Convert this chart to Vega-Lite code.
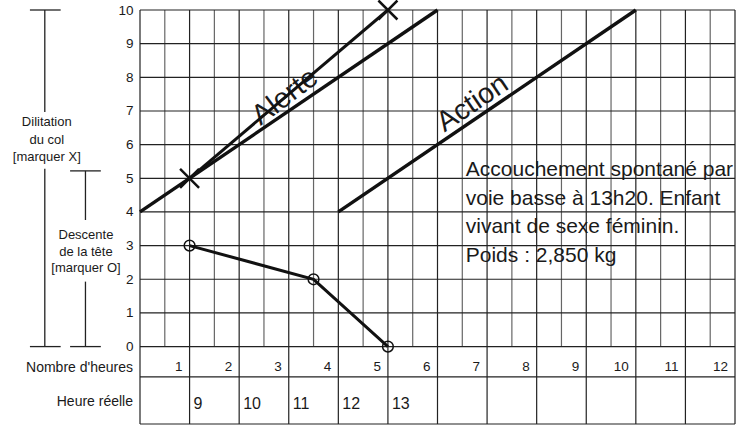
{
  "$schema": "https://vega.github.io/schema/vega-lite/v6.json",
  "width": 595,
  "height": 414,
  "autosize": {"type": "none"},
  "padding": {"left": 140, "top": 10, "right": 1, "bottom": 3},
  "background": "white",
  "config": {"view": {"stroke": null}, "text": {"font": "Liberation Sans", "color": "#1a1a1a"}},
  "datasets": {
    "vhalf": [
      {"x": 0.5, "x2": 0.5, "y": 0, "y2": 10}, {"x": 1.5, "x2": 1.5, "y": 0, "y2": 10},
      {"x": 2.5, "x2": 2.5, "y": 0, "y2": 10}, {"x": 3.5, "x2": 3.5, "y": 0, "y2": 10},
      {"x": 4.5, "x2": 4.5, "y": 0, "y2": 10}, {"x": 5.5, "x2": 5.5, "y": 0, "y2": 10},
      {"x": 6.5, "x2": 6.5, "y": 0, "y2": 10}, {"x": 7.5, "x2": 7.5, "y": 0, "y2": 10},
      {"x": 8.5, "x2": 8.5, "y": 0, "y2": 10}, {"x": 9.5, "x2": 9.5, "y": 0, "y2": 10},
      {"x": 10.5, "x2": 10.5, "y": 0, "y2": 10}, {"x": 11.5, "x2": 11.5, "y": 0, "y2": 10}
    ],
    "vhour": [
      {"x": 0, "x2": 0, "y": -2.3, "y2": 10}, {"x": 1, "x2": 1, "y": -2.3, "y2": 10},
      {"x": 2, "x2": 2, "y": -2.3, "y2": 10}, {"x": 3, "x2": 3, "y": -2.3, "y2": 10},
      {"x": 4, "x2": 4, "y": -2.3, "y2": 10}, {"x": 5, "x2": 5, "y": -2.3, "y2": 10},
      {"x": 6, "x2": 6, "y": -2.3, "y2": 10}, {"x": 7, "x2": 7, "y": -2.3, "y2": 10},
      {"x": 8, "x2": 8, "y": -2.3, "y2": 10}, {"x": 9, "x2": 9, "y": -2.3, "y2": 10},
      {"x": 10, "x2": 10, "y": -2.3, "y2": 10}, {"x": 11, "x2": 11, "y": -2.3, "y2": 10},
      {"x": 12, "x2": 12, "y": -2.3, "y2": 10}
    ],
    "hlines": [
      {"x": 0, "x2": 12, "y": 0, "y2": 0}, {"x": 0, "x2": 12, "y": 1, "y2": 1},
      {"x": 0, "x2": 12, "y": 2, "y2": 2}, {"x": 0, "x2": 12, "y": 3, "y2": 3},
      {"x": 0, "x2": 12, "y": 4, "y2": 4}, {"x": 0, "x2": 12, "y": 5, "y2": 5},
      {"x": 0, "x2": 12, "y": 6, "y2": 6}, {"x": 0, "x2": 12, "y": 7, "y2": 7},
      {"x": 0, "x2": 12, "y": 8, "y2": 8}, {"x": 0, "x2": 12, "y": 9, "y2": 9},
      {"x": 0, "x2": 12, "y": 10, "y2": 10}, {"x": 0, "x2": 12, "y": -0.9, "y2": -0.9},
      {"x": 0, "x2": 12, "y": -2.3, "y2": -2.3}
    ],
    "brackets": [
      {"x": -1.92, "x2": -1.92, "y": 10, "y2": 6.97},
      {"x": -1.92, "x2": -1.92, "y": 5.28, "y2": 0},
      {"x": -2.22, "x2": -1.6, "y": 10, "y2": 10},
      {"x": -2.22, "x2": -1.6, "y": 0, "y2": 0},
      {"x": -1.1, "x2": -1.1, "y": 5.22, "y2": 3.76},
      {"x": -1.1, "x2": -1.1, "y": 1.93, "y2": 0},
      {"x": -1.41, "x2": -0.79, "y": 5.22, "y2": 5.22},
      {"x": -1.41, "x2": -0.79, "y": 0, "y2": 0}
    ],
    "guides": [
      {"ligne": "Alerte", "x": 0, "y": 4}, {"ligne": "Alerte", "x": 6, "y": 10},
      {"ligne": "Action", "x": 4, "y": 4}, {"ligne": "Action", "x": 10, "y": 10}
    ],
    "guideLabels": [
      {"label": "Alerte", "x": 2.92, "y": 7.43, "angle": -37},
      {"label": "Action", "x": 6.7, "y": 7.24, "angle": -34}
    ],
    "dilatation": [{"x": 1, "y": 5}, {"x": 5, "y": 10}],
    "descente": [{"x": 1, "y": 3}, {"x": 3.5, "y": 2}, {"x": 5, "y": 0}],
    "hours": [
      {"x": 1, "y": -0.6, "label": "1"}, {"x": 2, "y": -0.6, "label": "2"},
      {"x": 3, "y": -0.6, "label": "3"}, {"x": 4, "y": -0.6, "label": "4"},
      {"x": 5, "y": -0.6, "label": "5"}, {"x": 6, "y": -0.6, "label": "6"},
      {"x": 7, "y": -0.6, "label": "7"}, {"x": 8, "y": -0.6, "label": "8"},
      {"x": 9, "y": -0.6, "label": "9"}, {"x": 10, "y": -0.6, "label": "10"},
      {"x": 11, "y": -0.6, "label": "11"}, {"x": 12, "y": -0.6, "label": "12"}
    ],
    "realHours": [
      {"x": 1, "y": -1.7, "label": "9"}, {"x": 2, "y": -1.7, "label": "10"},
      {"x": 3, "y": -1.7, "label": "11"}, {"x": 4, "y": -1.7, "label": "12"},
      {"x": 5, "y": -1.7, "label": "13"}
    ],
    "rowLabels": [
      {"x": 0, "y": -0.64, "label": "Nombre d'heures"},
      {"x": 0, "y": -1.66, "label": "Heure réelle"}
    ],
    "sideLabels": [
      {"x": -1.88, "y": 6.67, "label": "Dilitation"},
      {"x": -1.88, "y": 6.14, "label": "du col"},
      {"x": -1.88, "y": 5.63, "label": "[marquer X]"},
      {"x": -1.09, "y": 3.32, "label": "Descente"},
      {"x": -1.09, "y": 2.82, "label": "de la tête"},
      {"x": -1.09, "y": 2.34, "label": "[marquer O]"}
    ],
    "note": [
      {"x": 6.57, "y": 5.07, "label": "Accouchement spontané par\nvoie basse à 13h20. Enfant\nvivant de sexe féminin.\nPoids : 2,850 kg"}
    ]
  },
  "encoding": {
    "x": {"field": "x", "type": "quantitative", "scale": {"domain": [0, 12], "nice": false, "zero": false}, "axis": null},
    "y": {"field": "y", "type": "quantitative", "scale": {"domain": [-2.3, 10], "nice": false, "zero": false},
      "axis": {"values": [0, 1, 2, 3, 4, 5, 6, 7, 8, 9, 10], "ticks": false, "domain": false, "grid": false, "labelPadding": 7, "labelFontSize": 13.5, "labelFont": "Liberation Sans", "labelColor": "#1a1a1a", "title": null}}
  },
  "layer": [
    {"data": {"name": "vhalf"}, "mark": {"type": "rule", "color": "#666", "strokeWidth": 1.2},
      "encoding": {"x2": {"field": "x2"}, "y2": {"field": "y2"}}},
    {"data": {"name": "hlines"}, "mark": {"type": "rule", "color": "#222", "strokeWidth": 1.2},
      "encoding": {"x2": {"field": "x2"}, "y2": {"field": "y2"}}},
    {"data": {"name": "vhour"}, "mark": {"type": "rule", "color": "#222", "strokeWidth": 1.2},
      "encoding": {"x2": {"field": "x2"}, "y2": {"field": "y2"}}},
    {"data": {"name": "brackets"}, "mark": {"type": "rule", "color": "#222", "strokeWidth": 1.3},
      "encoding": {"x2": {"field": "x2"}, "y2": {"field": "y2"}}},
    {"data": {"name": "guides"}, "mark": {"type": "line", "color": "#111", "strokeWidth": 3.4},
      "encoding": {"detail": {"field": "ligne"}}},
    {"data": {"name": "guideLabels"}, "mark": {"type": "text", "fontSize": 28.5, "align": "center", "baseline": "middle"},
      "encoding": {"text": {"field": "label"}, "angle": {"field": "angle", "type": "quantitative", "scale": null}}},
    {"data": {"name": "dilatation"}, "mark": {"type": "line", "color": "#111", "strokeWidth": 3}, "encoding": {}},
    {"data": {"name": "dilatation"}, "mark": {"type": "point", "shape": "M-1,-1L1,1M1,-1L-1,1", "size": 361, "filled": false, "stroke": "#111", "strokeWidth": 2.5, "opacity": 1}, "encoding": {}},
    {"data": {"name": "descente"}, "mark": {"type": "line", "color": "#111", "strokeWidth": 3}, "encoding": {}},
    {"data": {"name": "descente"}, "mark": {"type": "point", "shape": "circle", "size": 115, "filled": false, "stroke": "#111", "strokeWidth": 1.5, "opacity": 1}, "encoding": {}},
    {"data": {"name": "hours"}, "mark": {"type": "text", "fontSize": 13.5, "align": "right", "baseline": "middle", "dx": -7},
      "encoding": {"text": {"field": "label"}}},
    {"data": {"name": "realHours"}, "mark": {"type": "text", "fontSize": 16, "align": "left", "baseline": "middle", "dx": 4},
      "encoding": {"text": {"field": "label"}}},
    {"data": {"name": "rowLabels"}, "mark": {"type": "text", "fontSize": 14, "align": "right", "baseline": "middle", "dx": -7},
      "encoding": {"text": {"field": "label"}}},
    {"data": {"name": "sideLabels"}, "mark": {"type": "text", "fontSize": 13, "align": "center", "baseline": "middle"},
      "encoding": {"text": {"field": "label"}}},
    {"data": {"name": "note"}, "mark": {"type": "text", "fontSize": 21, "align": "left", "baseline": "alphabetic", "lineBreak": "\n", "lineHeight": 28.7},
      "encoding": {"text": {"field": "label"}}}
  ]
}
